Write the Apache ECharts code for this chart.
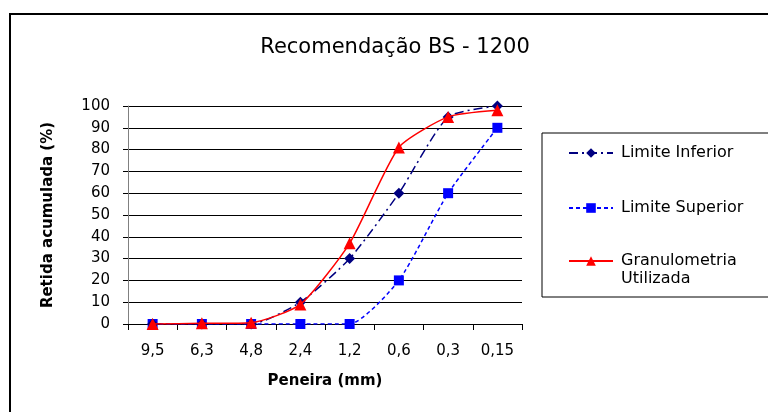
<!DOCTYPE html>
<html>
<head>
<meta charset="utf-8">
<script src="https://cdn.jsdelivr.net/npm/echarts@6/dist/echarts.min.js"></script>
<style>
  html, body { margin: 0; padding: 0; background: #fff; }
  #chart { width: 768px; height: 412px; }
</style>
</head>
<body>
<div id="chart"></div>
<script>
// Sieve sizes (mm) and cumulative retained percentages
const peneiras = ['9,5', '6,3', '4,8', '2,4', '1,2', '0,6', '0,3', '0,15'];
const limiteInferior = [0, 0, 0, 10, 30, 60, 95, 100];
const limiteSuperior = [0, 0, 0, 0, 0, 20, 60, 90];
const granulometria = [0, 0.3, 0.6, 9, 37, 81, 95, 98];

const FONT = 'DejaVu Sans';
const NOME_GRANULO = 'Granulometria Utilizada';

const chart = echarts.init(document.getElementById('chart'));

const legendBase = {
  orient: 'vertical',
  left: 563,
  itemWidth: 44,
  itemHeight: 12,
  selectedMode: false,
  textStyle: { fontFamily: FONT, fontSize: 16, color: '#000', padding: [0, 0, 0, 3] }
};

chart.setOption({
  animation: false,
  backgroundColor: '#fff',
  textStyle: { fontFamily: FONT },
  title: {
    text: 'Recomendação BS - 1200',
    left: 390,
    top: 32,
    textAlign: 'center',
    textStyle: { fontFamily: FONT, fontSize: 21, fontWeight: 'normal', color: '#000' }
  },
  graphic: [
    { type: 'rect', shape: { x: 10, y: 14, width: 780, height: 420 },
      style: { fill: 'none', stroke: '#000', lineWidth: 2 }, silent: true, z: -1 },
    { type: 'rect', shape: { x: 542, y: 133, width: 240, height: 164 },
      style: { fill: 'none', stroke: '#000', lineWidth: 1 }, silent: true, z: -1 },
    // second line of the wrapped legend label, set under the first line
    { type: 'text', left: 621, top: 271, silent: true,
      style: { text: 'Utilizada', font: '16px "DejaVu Sans"', fill: '#000' } }
  ],
  legend: [
    Object.assign({}, legendBase, { top: 140, data: ['Limite Inferior'] }),
    Object.assign({}, legendBase, { top: 195, data: ['Limite Superior'] }),
    Object.assign({}, legendBase, {
      top: 248,
      data: [NOME_GRANULO],
      formatter: name => name.split(' ')[0]
    })
  ],
  grid: { left: 128, right: 246, top: 106, bottom: 88 },
  xAxis: {
    type: 'category',
    data: peneiras,
    boundaryGap: true,
    name: 'Peneira (mm)',
    nameLocation: 'middle',
    nameGap: 50,
    nameTextStyle: { fontFamily: FONT, fontSize: 15, fontWeight: 'bold', color: '#000' },
    axisLine: { lineStyle: { color: '#000', width: 1 } },
    axisTick: { show: true, length: 6, alignWithLabel: false, lineStyle: { color: '#000' } },
    axisLabel: { margin: 20, fontFamily: FONT, fontSize: 15, color: '#000' }
  },
  yAxis: {
    type: 'value',
    min: 0,
    max: 100,
    interval: 10,
    name: 'Retida acumulada (%)',
    nameLocation: 'middle',
    nameGap: 72,
    nameTextStyle: { fontFamily: FONT, fontSize: 15, fontWeight: 'bold', color: '#000' },
    axisLine: { show: true, lineStyle: { color: '#808080', width: 1 } },
    axisTick: { show: true, length: 5, lineStyle: { color: '#000' } },
    axisLabel: { margin: 18, fontFamily: FONT, fontSize: 15, color: '#000' },
    splitLine: { show: true, lineStyle: { color: '#000', width: 1 } }
  },
  series: [
    {
      name: 'Limite Inferior',
      type: 'line',
      data: limiteInferior,
      smooth: 0.2,
      symbol: 'diamond',
      symbolSize: 11,
      color: '#000080',
      lineStyle: { color: '#000080', width: 1.5, type: [9, 4, 2, 4] },
      itemStyle: { color: '#000080' },
      z: 3
    },
    {
      name: 'Limite Superior',
      type: 'line',
      data: limiteSuperior,
      smooth: 0.2,
      symbol: 'rect',
      symbolSize: 10,
      color: '#0000FF',
      lineStyle: { color: '#0000FF', width: 1.5, type: [4, 3] },
      itemStyle: { color: '#0000FF' },
      z: 2
    },
    {
      name: NOME_GRANULO,
      type: 'line',
      data: granulometria,
      smooth: 0.2,
      symbol: 'triangle',
      symbolSize: 12,
      color: '#FF0000',
      lineStyle: { color: '#FF0000', width: 1.5 },
      itemStyle: { color: '#FF0000' },
      z: 4
    }
  ]
});
</script>
</body>
</html>
